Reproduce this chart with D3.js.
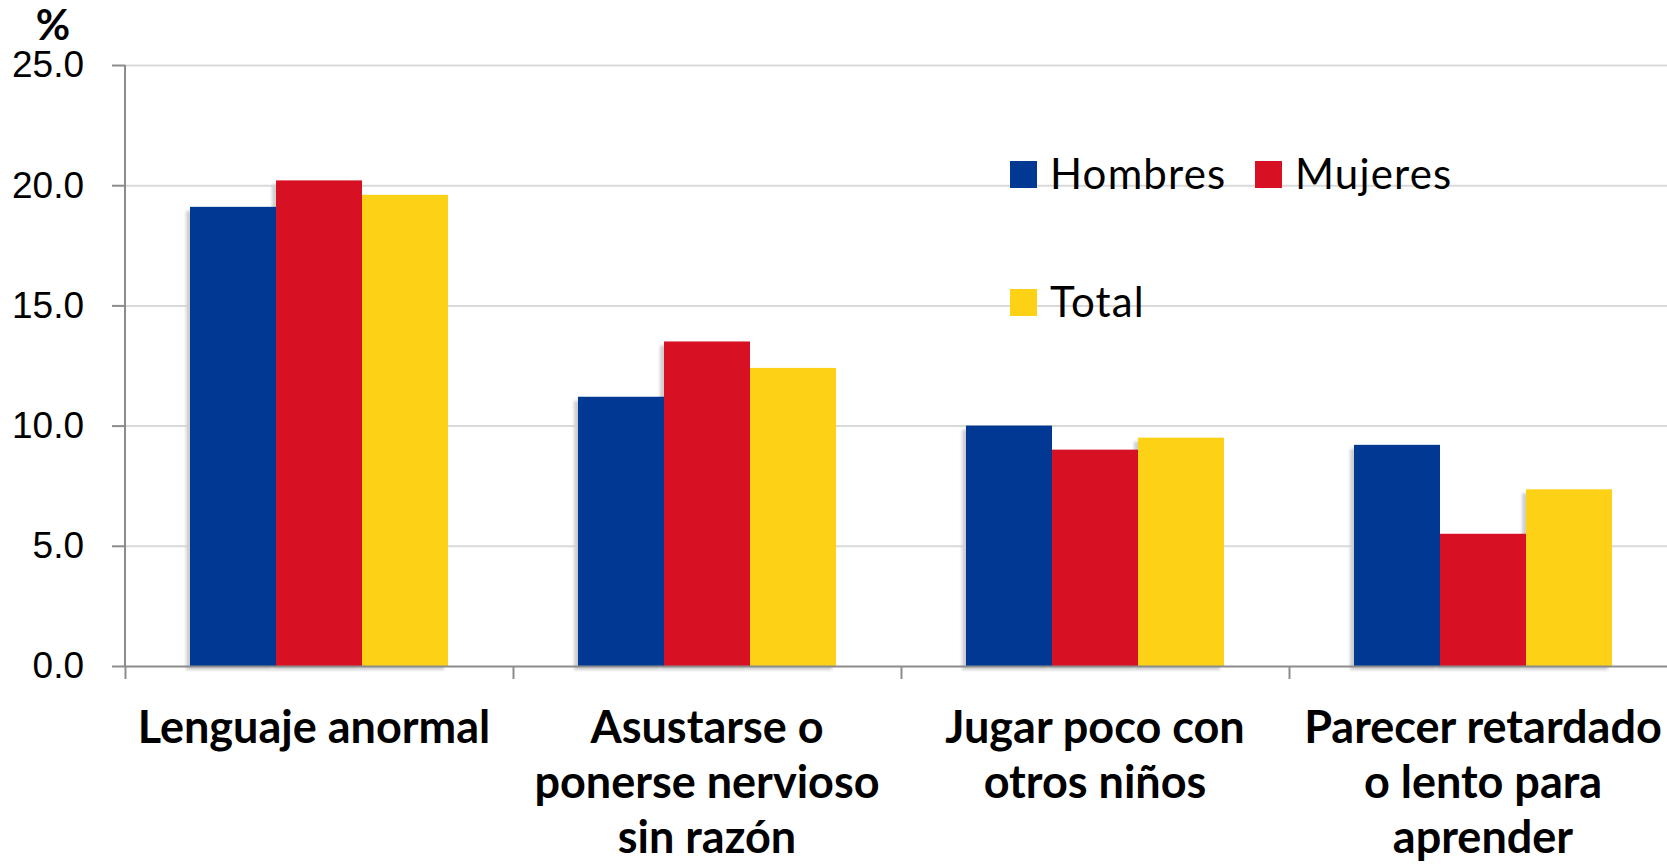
<!DOCTYPE html>
<html>
<head>
<meta charset="utf-8">
<script src="https://cdn.jsdelivr.net/npm/d3@7"></script>
<style>
  html, body { margin: 0; padding: 0; background: #fff; }
  svg { display: block; font-family: Lato, "Open Sans", sans-serif; }
  .grid line { stroke: #d9d9d9; stroke-width: 2; }
  .grid path { display: none; }
  .yaxis text { font-size: 37px; fill: #000; }
  .yaxis line, .yaxis path, .xaxis line, .xaxis path { stroke: #8c8c8c; stroke-width: 2; }
  .catLabel { font-size: 45px; font-weight: bold; fill: #000; }
  .legend text { font-size: 42px; letter-spacing: 1.2px; fill: #000; }
</style>
</head>
<body>
<script>
//chart data
var categories = [
    "Lenguaje anormal",
    "Asustarse o ponerse nervioso sin razón",
    "Jugar poco con otros niños",
    "Parecer retardado o lento para aprender"
];
//label lines as they wrap under the axis
var categoryLines = [
    ["Lenguaje anormal"],
    ["Asustarse o", "ponerse nervioso", "sin razón"],
    ["Jugar poco con", "otros niños"],
    ["Parecer retardado", "o lento para", "aprender"]
];
var seriesNames = ["Hombres", "Mujeres", "Total"];
var hombres = [19.1, 11.2, 10.0, 9.2];
var mujeres = [20.2, 13.5, 9.0, 5.5];
var total = [19.6, 12.4, 9.5, 7.35];
var yTicks = [0, 5, 10, 15, 20, 25];

var colors = ["#003893", "#d71023", "#fcd116"];

(function(){
    var width = 1667,
        height = 867;

    var svg = d3.select("body")
        .append("svg")
        .attr("width", width)
        .attr("height", height);

    //shadow filter for bars
    var defs = svg.append("defs");
    defs.append("filter")
        .attr("id", "soft")
        .attr("x", "-20%").attr("y", "-20%")
        .attr("width", "140%").attr("height", "140%")
        .append("feGaussianBlur")
        .attr("stdDeviation", 1.5);

    //plot area (runs past the right edge like the original)
    var left = 125,
        right = 1677,
        top = 65,
        bottom = 666;

    var yScale = d3.scaleLinear()
        .domain([0, 25])
        .range([bottom, top]);

    var x0 = d3.scaleBand()
        .domain(categories)
        .range([left, right])
        .paddingInner(0.335)
        .paddingOuter(0.1675);

    var x1 = d3.scaleBand()
        .domain(seriesNames)
        .range([0, x0.bandwidth()]);

    //gridlines
    svg.append("g")
        .attr("class", "grid")
        .attr("transform", "translate(" + left + ",0)")
        .call(d3.axisLeft(yScale)
            .tickValues(yTicks.slice(1))
            .tickSize(-(right - left))
            .tickFormat(""));

    //rows for the bars
    var rows = [];
    categories.forEach(function(c, i){
        rows.push({cat: c, series: "Hombres", value: hombres[i], color: colors[0]});
        rows.push({cat: c, series: "Mujeres", value: mujeres[i], color: colors[1]});
        rows.push({cat: c, series: "Total", value: total[i], color: colors[2]});
    });

    //bar shadows
    svg.append("g").selectAll(".shadow")
        .data(rows)
        .enter()
        .append("rect")
        .attr("class", "shadow")
        .attr("x", d => x0(d.cat) + x1(d.series) - 4)
        .attr("y", d => yScale(d.value) + 4)
        .attr("width", x1.bandwidth())
        .attr("height", d => bottom - yScale(d.value))
        .attr("fill", "#cfcfcf")
        .attr("filter", "url(#soft)");

    //bars
    svg.append("g").selectAll(".bar")
        .data(rows)
        .enter()
        .append("rect")
        .attr("class", "bar")
        .attr("x", d => x0(d.cat) + x1(d.series))
        .attr("y", d => yScale(d.value))
        .attr("width", x1.bandwidth())
        .attr("height", d => bottom - yScale(d.value))
        .attr("fill", d => d.color);

    //x axis with ticks between categories
    var xEdges = d3.scaleLinear()
        .domain([0, categories.length])
        .range([left, right]);
    svg.append("g")
        .attr("class", "xaxis")
        .attr("transform", "translate(0," + bottom + ")")
        .call(d3.axisBottom(xEdges)
            .tickValues(d3.range(categories.length + 1))
            .tickSize(13)
            .tickSizeOuter(0)
            .tickFormat(""));

    //y axis
    svg.append("g")
        .attr("class", "yaxis")
        .attr("transform", "translate(" + left + ",0)")
        .call(d3.axisLeft(yScale)
            .tickValues(yTicks)
            .tickSize(13)
            .tickSizeOuter(0)
            .tickPadding(28)
            .tickFormat(d3.format(".1f")));
    svg.select(".yaxis path").attr("d", "M0," + bottom + "V" + top);

    //percent sign
    svg.append("text")
        .attr("x", 53)
        .attr("y", 40)
        .attr("text-anchor", "middle")
        .style("font-size", "42px")
        .style("font-weight", "bold")
        .text("%");

    //category labels
    var labels = svg.append("g").selectAll(".catLabel")
        .data(categories)
        .enter()
        .append("text")
        .attr("class", "catLabel")
        .attr("text-anchor", "middle")
        .attr("x", d => x0(d) + x0.bandwidth() / 2)
        .attr("y", 743);
    labels.each(function(d, i){
        var t = d3.select(this);
        categoryLines[i].forEach(function(line, j){
            t.append("tspan")
                .attr("x", x0(d) + x0.bandwidth() / 2 - (i === 0 ? 5 : 0))
                .attr("dy", j === 0 ? 0 : 55)
                .text(line);
        });
    });

    //legend
    var legendPos = [[1010, 161], [1255, 161], [1010, 289]];
    var legend = svg.append("g")
        .attr("class", "legend")
        .selectAll("g")
        .data(seriesNames)
        .enter()
        .append("g")
        .attr("transform", (d, i) => "translate(" + legendPos[i][0] + "," + legendPos[i][1] + ")");
    legend.append("rect")
        .attr("width", 27)
        .attr("height", 27)
        .attr("fill", (d, i) => colors[i]);
    legend.append("text")
        .attr("x", 40)
        .attr("y", 28)
        .text(d => d);
})();
</script>
</body>
</html>
